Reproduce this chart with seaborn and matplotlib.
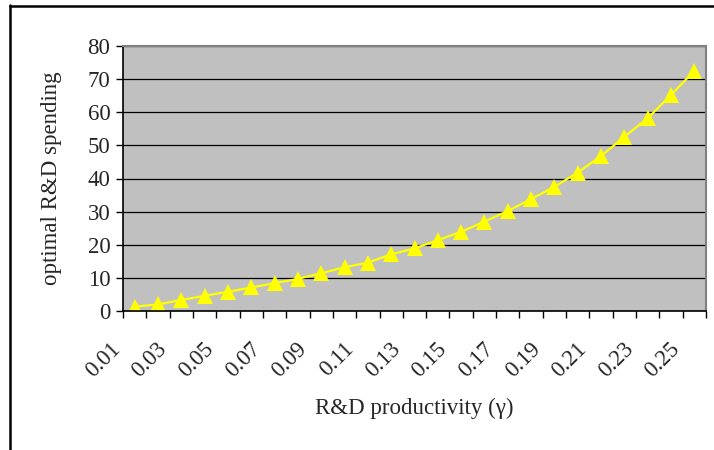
import matplotlib
matplotlib.use('Agg')
import matplotlib.pyplot as plt
import matplotlib.transforms as mtransforms
from matplotlib.lines import Line2D
import pandas as pd
import seaborn as sns
import numpy as np

# data
gamma = [0.01, 0.02, 0.03, 0.04, 0.05, 0.06, 0.07, 0.08, 0.09, 0.10,
         0.11, 0.12, 0.13, 0.14, 0.15, 0.16, 0.17, 0.18, 0.19, 0.20,
         0.21, 0.22, 0.23, 0.24, 0.25]
spending = [1.3, 2.0, 3.3, 4.6, 5.8, 7.1, 8.4, 9.7, 11.4, 13.2,
            14.6, 17.1, 18.9, 21.4, 23.9, 27.0, 30.2, 33.8, 37.5, 41.8,
            46.8, 52.6, 58.2, 65.2, 72.5]
y_ticks = [0, 10, 20, 30, 40, 50, 60, 70, 80]

df = pd.DataFrame({'gamma': ['%.2f' % g for g in gamma], 'spending': spending})

sns.set_style('white')
plt.rcParams['font.family'] = ['Liberation Serif', 'DejaVu Serif']
fs = 16.5

fig = plt.figure(figsize=(7.14, 4.5), dpi=100)
ax = fig.add_axes([123/714, 1-311/450, (706-123)/714, (311-46)/450])
ax.set_facecolor('#C0C0C0')

sns.pointplot(data=df, x='gamma', y='spending', color='#FFFF00', markers='^',
              ax=ax, markersize=12, linewidth=1.6, markeredgewidth=0)

n = len(gamma)
ax.set_xlim(-0.5, n - 0.5)
ax.set_ylim(0, 80)
ax.set_yticks(y_ticks)
ax.set_yticklabels([str(v) for v in y_ticks], fontsize=fs)
ax.yaxis.grid(True, color='black', linewidth=0.9)
ax.set_axisbelow(True)

# Excel style: ticks between categories, labels on every other category
ax.set_xticks(np.arange(-0.5, n, 1.0))
ax.set_xticklabels([])
ax.set_xticks(np.arange(0, n, 2), minor=True)
ax.set_xticklabels(df['gamma'][::2], minor=True, rotation=45, ha='right',
                   va='top', fontsize=fs)
ax.tick_params(axis='x', which='major', direction='out', length=5, width=1, color='black', bottom=True)
ax.tick_params(axis='x', which='minor', length=0, pad=20)
ax.tick_params(axis='y', direction='out', length=5, width=1, color='black', left=True, pad=4)
offset = mtransforms.ScaledTranslation(-10/100, 0, fig.dpi_scale_trans)
for lbl in ax.get_xticklabels(minor=True):
    lbl.set_transform(lbl.get_transform() + offset)

for side in ['top', 'right']:
    ax.spines[side].set_color('#808080')
    ax.spines[side].set_linewidth(1.5)
for side in ['left', 'bottom']:
    ax.spines[side].set_color('black')
    ax.spines[side].set_linewidth(1.2)

ax.set_xlabel('R&D productivity (γ)', fontsize=fs)
ax.set_ylabel('optimal R&D spending', fontsize=fs)
ax.xaxis.set_label_coords(0.5, -0.328)
ax.yaxis.set_label_coords(-0.105, 0.5)

# chart frame (cropped on right and bottom)
fig.add_artist(Line2D([10/714, 10/714], [0, 1-5/450], color='black', linewidth=1.8))
fig.add_artist(Line2D([10/714, 1], [1-6/450, 1-6/450], color='black', linewidth=1.8))

fig.savefig('out.png', dpi=100)
